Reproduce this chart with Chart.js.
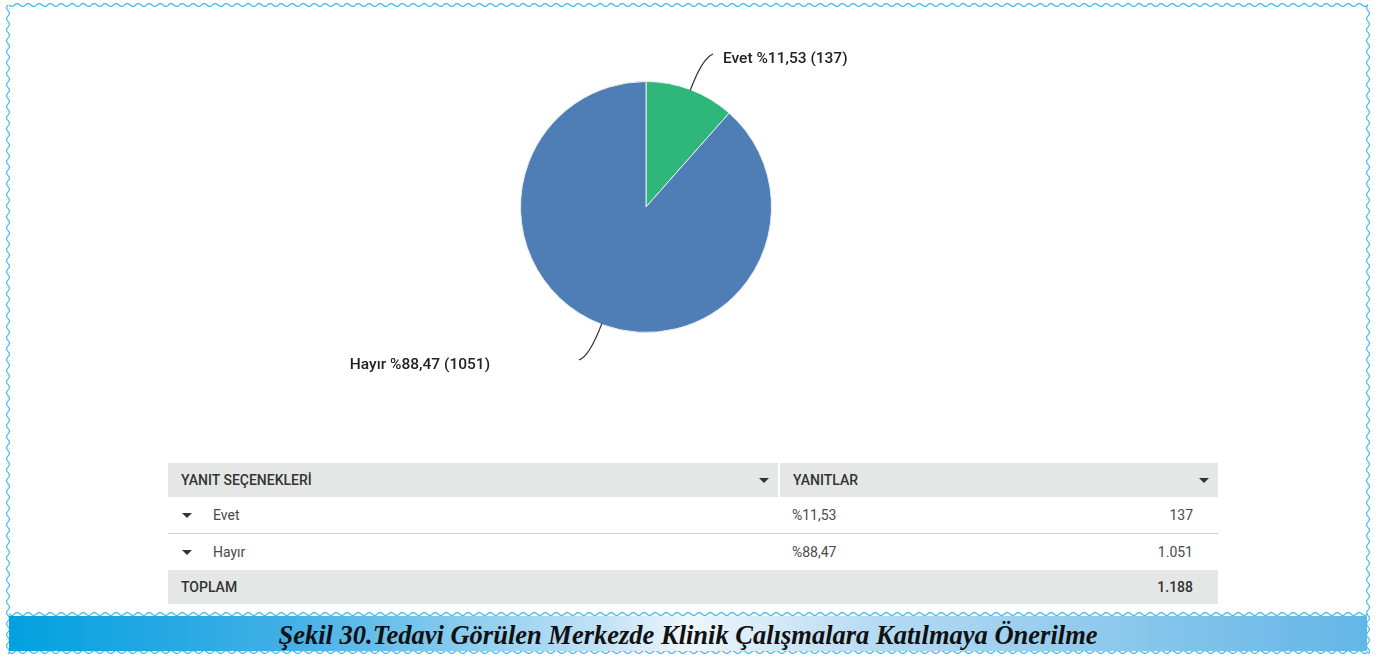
<!DOCTYPE html>
<html lang="tr">
<head>
<meta charset="utf-8">
<title>Şekil 30</title>
<script src="https://cdn.jsdelivr.net/npm/chart.js@4.4.1/dist/chart.umd.min.js"></script>
<style>
  body { margin: 0; width: 1376px; height: 657px; background: #fff; position: relative; overflow: hidden; font-family: Roboto, "Noto Sans", sans-serif; }
  #frame { position: absolute; left: 0; top: 0; }
  #chartBox { position: absolute; left: 296px; top: 0; width: 700px; height: 440px; }
  #tbl { position: absolute; left: 168px; top: 463px; width: 1050px; border-collapse: collapse; font-size: 14px; color: #4a4a4a; }
  #tbl td { padding: 0 0 0 13px; height: 36px; }
  #tbl .hd td { background: #e4e7e6; color: #333; font-weight: 500; height: 34px; }
  #tbl .hd td.c1 { border-right: 2px solid #fff; }
  #tbl .sep td { border-bottom: 1px solid #cfd3d2; }
  #tbl .tot td { background: #e4e7e6; color: #333; font-weight: 500; height: 34px; }
  #tbl .num { text-align: right; padding-right: 25px; }
  .arr { display: inline-block; width: 0; height: 0; border-left: 5px solid transparent; border-right: 5px solid transparent; border-top: 5px solid #333; vertical-align: middle; }
  .hd .arr { float: right; margin: 6px 9px 0 0; }
  .rowarr { margin: 0 21px 0 1px; position: relative; top: -1px; }
  #caption { position: absolute; left: 9px; top: 616px; width: 1358px; height: 35px;
    background: linear-gradient(to right, #02a0e0 0%, #3fafe5 20%, #c4e3f6 44%, #eef6fc 50%, #b5daf2 64%, #62b6e6 100%);
    text-align: center; font-family: "Liberation Serif", "DejaVu Serif", serif; font-style: italic; font-weight: bold;
    font-size: 26.5px; line-height: 38px; color: #111; }
</style>
</head>
<body>
<svg id="frame" width="1376" height="657"></svg>
<div id="chartBox"><canvas id="pie" width="700" height="440"></canvas></div>
<table id="tbl"></table>
<div id="caption">Şekil 30.Tedavi Görülen Merkezde Klinik Çalışmalara Katılmaya Önerilme</div>
<script>
// veriler
const categories = ['Evet', 'Hayır'];
const counts = [137, 1051];
const sliceColors = ['#2fb67a', '#4f7db5'];

const total = counts.reduce((a, b) => a + b, 0);

// %11,53 biçimi
function formatPct(v) {
  return '%' + (v / total * 100).toFixed(2).replace('.', ',');
}

// 1.188 biçimi
function formatNum(n) {
  return String(n).replace(/\B(?=(\d{3})+(?!\d))/g, '.');
}

// dalgalı çerçeve
function wave(x1, y1, x2, y2) {
  const len = Math.hypot(x2 - x1, y2 - y1);
  const dx = (x2 - x1) / len, dy = (y2 - y1) / len;
  let d = '';
  for (let s = 0; s <= len; s += 1) {
    const off = 1.4 * Math.sin(s / 11 * Math.PI * 2);
    const x = x1 + dx * s - dy * off, y = y1 + dy * s + dx * off;
    d += (s === 0 ? 'M' : 'L') + x.toFixed(1) + ' ' + y.toFixed(1);
  }
  return '<path d="' + d + '" fill="none" stroke="#3dbbec" stroke-width="1.2"/>';
}
document.getElementById('frame').innerHTML =
  wave(9, 5, 1368, 5) + wave(8, 5, 8, 654) + wave(1368, 5, 1368, 654) +
  wave(9, 614, 1368, 614) + wave(9, 652, 1368, 652);

// tablo
let html = '<tr class="hd"><td class="c1">YANIT SEÇENEKLERİ<span class="arr"></span></td>' +
  '<td colspan="2">YANITLAR<span class="arr"></span></td></tr>';
categories.forEach((c, i) => {
  html += '<tr' + (i === 0 ? ' class="sep"' : '') + '><td class="c1" style="width:598px"><span class="arr rowarr"></span>' + c + '</td>' +
    '<td>' + formatPct(counts[i]) + '</td><td class="num">' + formatNum(counts[i]) + '</td></tr>';
});
html += '<tr class="tot"><td>TOPLAM</td><td></td><td class="num">' + formatNum(total) + '</td></tr>';
document.getElementById('tbl').innerHTML = html;

// dilim etiketleri ve kavisli çizgiler
const leaderLabels = {
  id: 'leaderLabels',
  afterDatasetsDraw(chart) {
    const ctx = chart.ctx;
    const meta = chart.getDatasetMeta(0);
    ctx.save();
    meta.data.forEach((arc, i) => {
      const p = arc.getProps(['x', 'y', 'startAngle', 'endAngle', 'outerRadius']);
      const mid = (p.startAngle + p.endAngle) / 2;
      const cos = Math.cos(mid), sin = Math.sin(mid);
      const side = cos >= 0 ? 1 : -1;
      const r = p.outerRadius;
      const x0 = p.x + cos * (r - 1), y0 = p.y + sin * (r - 1);
      const cx = p.x + cos * (r + 34), cy = p.y + sin * (r + 34);
      const x1 = p.x + cos * (r + 38) + side * 9, y1 = p.y + sin * (r + 38);
      ctx.beginPath();
      ctx.moveTo(x0, y0);
      ctx.quadraticCurveTo(cx, cy, x1, y1);
      ctx.strokeStyle = '#333';
      ctx.lineWidth = 1.2;
      ctx.stroke();
      ctx.font = '500 15.5px Roboto, sans-serif';
      ctx.fillStyle = '#222';
      ctx.textBaseline = 'middle';
      const txt = categories[i] + ' ' + formatPct(counts[i]) + ' (' + counts[i] + ')';
      if (side > 0) {
        ctx.textAlign = 'left';
        ctx.fillText(txt, x1 + 10, y1 + 5);
      } else {
        ctx.textAlign = 'right';
        ctx.fillText(txt, x1 - 89, y1 + 5);
      }
    });
    ctx.restore();
  }
};

new Chart(document.getElementById('pie'), {
  type: 'pie',
  data: {
    labels: categories,
    datasets: [{ data: counts, backgroundColor: sliceColors, borderColor: '#e6eeee', borderWidth: 1 }]
  },
  options: {
    responsive: false,
    animation: false,
    layout: { padding: { top: 81, bottom: 107, left: 0, right: 0 } },
    plugins: { legend: { display: false }, tooltip: { enabled: false } }
  },
  plugins: [leaderLabels]
});
</script>
</body>
</html>
